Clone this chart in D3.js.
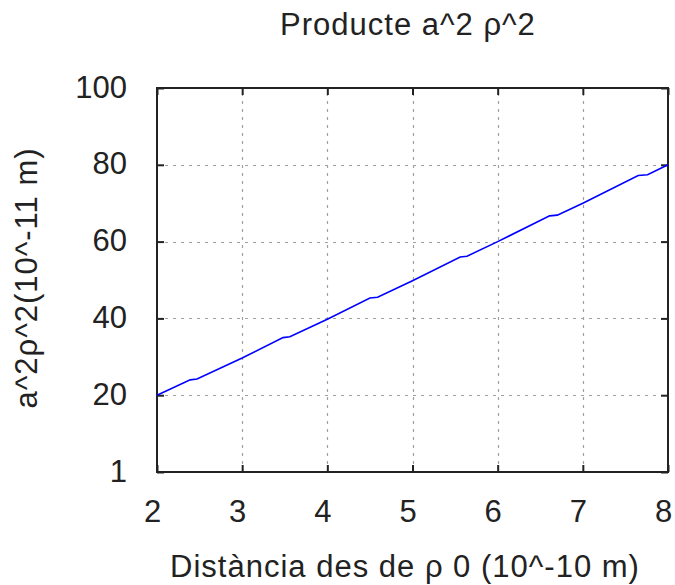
<!DOCTYPE html>
<html>
<head>
<meta charset="utf-8">
<script src="https://cdn.jsdelivr.net/npm/d3@7"></script>
<style>
  html, body { margin: 0; padding: 0; background: #fff; }
  svg text { font-family: "Liberation Sans", Arial, sans-serif; fill: #222; }
</style>
</head>
<body>
<svg id="chart" width="675" height="585"></svg>
<script>
// Distance from ρ0 (10^-10 m) and the product a²ρ² (10^-11 m)
const distance = [2.0, 2.39, 2.47, 3.0, 3.48, 3.56, 4.0, 4.5, 4.59, 5.0, 5.56, 5.64, 6.0, 6.61, 6.70, 7.0, 7.65, 7.76, 8.0];
const product  = [20.0, 24.0, 24.2, 29.7, 35.0, 35.2, 39.8, 45.3, 45.5, 49.8, 56.0, 56.2, 60.0, 66.7, 66.9, 70.0, 77.2, 77.4, 80.0];

const xTicks = [2, 3, 4, 5, 6, 7, 8];
const yTicks = [0, 20, 40, 60, 80, 100];
const yTickLabels = ["1", "20", "40", "60", "80", "100"];

const titleText = "Producte a^2 ρ^2";
const xLabelText = "Distància des de ρ 0 (10^-10 m)";
const yLabelText = "a^2ρ^2(10^-11 m)";

const svg = d3.select("#chart");
const m = { left: 157, right: 668, top: 88, bottom: 472 };
const fontSize = 31;

const x = d3.scaleLinear().domain([2, 8]).range([m.left, m.right]);
const y = d3.scaleLinear().domain([0, 100]).range([m.bottom, m.top]);

// dashed grid at the inner ticks
const grid = svg.append("g").attr("stroke", "#a0a0a0").attr("stroke-width", 1.2)
  .attr("stroke-dasharray", "3,5");
grid.selectAll("line.vx").data(xTicks.slice(1, -1)).join("line")
  .attr("x1", d => Math.round(x(d)) + 0.5).attr("x2", d => Math.round(x(d)) + 0.5)
  .attr("y1", m.bottom).attr("y2", m.top);
grid.selectAll("line.hy").data(yTicks.slice(1, -1)).join("line")
  .attr("y1", d => Math.round(y(d)) + 0.5).attr("y2", d => Math.round(y(d)) + 0.5)
  .attr("x1", m.left).attr("x2", m.right);

// axes with inward ticks, mirrored on top and right
const tickLen = 7;
const axB = d3.axisBottom(x).tickValues(xTicks).tickSize(-tickLen).tickFormat(d3.format("d")).tickPadding(0);
const axT = d3.axisTop(x).tickValues(xTicks).tickSize(-tickLen).tickFormat("");
const axL = d3.axisLeft(y).tickValues(yTicks).tickSize(-tickLen)
  .tickFormat((d, i) => yTickLabels[i]).tickPadding(0);
const axR = d3.axisRight(y).tickValues(yTicks).tickSize(-tickLen).tickFormat("");

function styleAxis(g) {
  g.select(".domain").remove();
  g.selectAll(".tick line").attr("stroke", "#222").attr("stroke-width", 2);
  g.selectAll(".tick text").attr("font-size", fontSize).attr("fill", "#222");
}
svg.append("g").attr("transform", `translate(0,${m.bottom})`).call(axB).call(styleAxis)
  .selectAll(".tick text").attr("dy", null).attr("y", 50).attr("x", -5);
svg.append("g").attr("transform", `translate(0,${m.top})`).call(axT).call(styleAxis);
svg.append("g").attr("transform", `translate(${m.left},0)`).call(axL).call(styleAxis)
  .selectAll(".tick text").attr("text-anchor", "end").attr("dy", null).attr("x", -30).attr("y", 9);
svg.append("g").attr("transform", `translate(${m.right},0)`).call(axR).call(styleAxis);

// frame
svg.append("rect")
  .attr("x", m.left).attr("y", m.top)
  .attr("width", m.right - m.left).attr("height", m.bottom - m.top)
  .attr("fill", "none").attr("stroke", "#222").attr("stroke-width", 2);

// data line
const pts = distance.map((d, i) => [d, product[i]]);
svg.append("path").datum(pts)
  .attr("fill", "none").attr("stroke", "#0000ff").attr("stroke-width", 1.6)
  .attr("d", d3.line().x(d => x(d[0])).y(d => y(d[1])));

// titles
svg.append("text").attr("x", 408).attr("y", 35).attr("text-anchor", "middle")
  .attr("font-size", fontSize).attr("letter-spacing", 1).text(titleText);
svg.append("text").attr("x", 405).attr("y", 577).attr("text-anchor", "middle")
  .attr("font-size", fontSize).attr("letter-spacing", 1).text(xLabelText);
svg.append("text").attr("transform", "translate(37,278) rotate(-90)")
  .attr("text-anchor", "middle").attr("font-size", fontSize).attr("letter-spacing", 1).text(yLabelText);
</script>
</body>
</html>
